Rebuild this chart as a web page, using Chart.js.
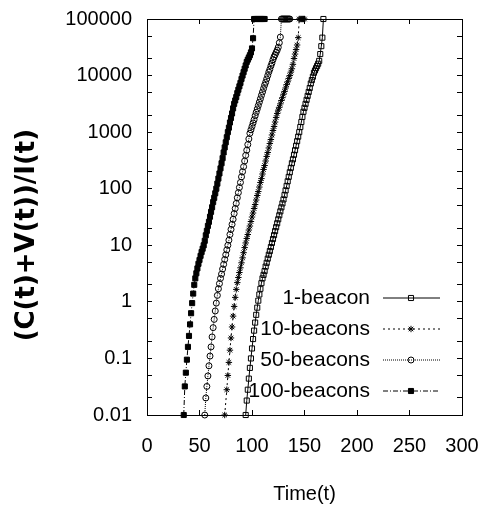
<!DOCTYPE html>
<html>
<head>
<meta charset="utf-8">
<script src="https://cdn.jsdelivr.net/npm/chart.js@4.4.1/dist/chart.umd.min.js"></script>
<style>
html,body{margin:0;padding:0;background:#fff;}
canvas{display:block;}
</style>
</head>
<body>
<canvas id="c" width="489" height="516"></canvas>
<script>
// ---------------- data ----------------
const seriesLabels = ['1-beacon', '10-beacons', '50-beacons', '100-beacons'];
const xTickValues = [0, 50, 100, 150, 200, 250, 300];
const yMajorTicks = [0.01, 0.1, 1, 10, 100, 1000, 10000, 100000];
const yMajorLabels = ['0.01', '0.1', '1', '10', '100', '1000', '10000', '100000'];
const yMinorTicks = [0.02, 0.05, 0.2, 0.5, 2, 5, 20, 50, 200, 500, 2000, 5000, 20000, 50000];
const xTitle = 'Time(t)';
const yTitle = '(C(t)+V(t))/I(t)';

const time1 = [94,95,96,97,98,99,100,101,102,103,104,105,106,107,108,109,110,111,112,113,114,115,116,117,118,119,120,121,122,123,124,125,126,127,128,129,130,131,132,133,134,135,136,137,138,139,140,141,142,143,144,145,146,147,148,149,150,151,152,153,154,155,156,157,158,159,160,161,162,163,164,165,166,167,168];
const value1 = [0.01,0.018,0.028,0.044,0.068,0.1,0.15,0.22,0.31,0.43,0.59,0.79,1.05,1.35,1.7,2.14,2.6,3.0,3.5,4.2,4.9,5.8,6.8,7.9,9.3,11,12.9,15.1,17.8,20.9,24.5,28.8,33.9,39.8,46.8,55,64.6,77.6,93.3,112,135,162,195,234,282,331,398,479,575,692,832,1000,1230,1510,1860,2290,2690,3160,3720,4370,5130,6030,7240,8320,9550,11200,12300,13500,14800,16200,18200,24000,33100,46800,100000];

const time10 = [74,76,77,78,79,80,81,82,83,84,85,86,87,88,89,90,91,92,93,94,95,96,97,98,99,100,101,102,103,104,105,106,107,108,109,110,111,112,113,114,115,116,117,118,119,120,121,122,123,124,125,126,127,128,129,130,131,132,133,134,135,136,137,138,139,140,141,142,143,144,145,146,147,148,149,150];
const value10 = [0.01,0.028,0.05,0.085,0.14,0.23,0.36,0.56,0.83,1.2,1.66,2.19,2.7,3.3,4.0,4.9,6.0,7.4,9.1,11,13.2,15.5,18.6,21.9,26.3,31.6,37.2,44.7,52.5,63.1,75.9,89.1,107,129,151,182,219,257,309,372,437,525,631,741,891,1070,1260,1510,1820,2140,2450,2750,3160,3630,4070,4680,5250,6030,6920,7760,8910,10000,11500,13200,15800,20000,24000,28800,34700,46800,100000,100000,100000,100000,100000,100000];

const time50 = [55,56,57,58,59,60,61,62,63,64,65,66,67,68,69,70,71,72,73,74,75,76,77,78,79,80,81,82,83,84,85,86,87,88,89,90,91,92,93,94,95,96,97,98,99,100,101,102,103,104,105,106,107,108,109,110,111,112,113,114,115,116,117,118,119,120,121,122,123,124,125,126,127,128,129,130,131,132,133,134,135,136];
const value50 = [0.01,0.02,0.032,0.049,0.074,0.11,0.16,0.24,0.35,0.49,0.69,0.95,1.3,1.7,2.1,2.6,3.1,3.8,4.6,5.6,6.8,8.3,10,12.3,15.5,19.1,23.4,28.8,36.3,44.7,55,69.2,85.1,105,129,162,200,245,309,389,479,603,759,955,1100,1260,1450,1660,1950,2240,2570,2950,3390,3890,4470,5130,5890,6760,7590,8710,10000,11500,12900,14800,16600,19100,21400,23400,25700,28200,31600,38000,47900,100000,100000,100000,100000,100000,100000,100000,100000,100000];

const time100 = [35,36,37,38,39,40,41,42,43,44,45,46,47,48,49,50,51,52,53,54,55,56,57,58,59,60,61,62,63,64,65,66,67,68,69,70,71,72,73,74,75,76,77,78,79,80,81,82,83,84,85,86,87,88,89,90,91,92,93,94,95,96,97,98,99,100,101,102,103,104,105,106,107,108,109,110,111,112];
const value100 = [0.01,0.032,0.056,0.095,0.16,0.25,0.4,0.63,0.95,1.4,2.0,2.6,3.2,3.9,4.7,5.5,6.5,7.6,8.7,10,12,15,18,22,26,32,39,47,58,69,83,100,123,151,186,229,282,347,437,537,661,813,1000,1200,1480,1780,2140,2630,3160,3630,4170,4900,5620,6460,7410,8710,10000,11500,13200,15100,17400,19100,20900,22900,25700,30200,45700,100000,100000,100000,100000,100000,100000,100000,100000,100000,100000,100000];

// ---------------- chart ----------------
const FONT = '"Liberation Sans", Arial, sans-serif';
const pts = (ts, vs) => ts.map((t, i) => ({ x: t, y: vs[i] }));

function mkSet(label, ts, vs, style, radius, bg, dash) {
  return {
    label: label,
    data: pts(ts, vs),
    borderColor: '#000',
    borderWidth: 1,
    borderDash: dash,
    pointStyle: style,
    pointRadius: radius,
    pointBorderWidth: 1,
    pointBorderColor: '#000',
    pointBackgroundColor: bg,
    fill: false,
    tension: 0,
    clip: false
  };
}

const datasets = [
  mkSet(seriesLabels[0], time1, value1, 'rect', 3.6, 'rgba(0,0,0,0)', []),
  mkSet(seriesLabels[1], time10, value10, 'star', 3.2, 'rgba(0,0,0,0)', [2, 3]),
  mkSet(seriesLabels[2], time50, value50, 'circle', 3, 'rgba(0,0,0,0)', [1, 1]),
  mkSet(seriesLabels[3], time100, value100, 'rect', 3.6, '#000', [5, 2, 1, 2])
];

const yTicksAll = yMajorTicks.concat(yMinorTicks).sort((a, b) => a - b);

function gridOpts() {
  return { drawOnChartArea: false, drawTicks: true, tickLength: -5, color: '#000', tickColor: '#000', lineWidth: 1, tickWidth: 1 };
}
function borderOpts() { return { display: true, color: '#000', width: 1 }; }
function noOverhang(s) { s.paddingLeft = 0; s.paddingRight = 0; s.paddingTop = 0; s.paddingBottom = 0; }

const gnuLegend = {
  id: 'gnuLegend',
  afterDatasetsDraw(chart) {
    const ctx = chart.ctx;
    const a = chart.chartArea;
    ctx.save();
    ctx.font = '21px ' + FONT;
    ctx.textAlign = 'right';
    ctx.textBaseline = 'middle';
    chart.data.datasets.forEach((ds, i) => {
      const y = a.bottom - 117 + i * 31;
      ctx.fillStyle = '#000';
      ctx.fillText(ds.label, a.right - 92, y);
      ctx.strokeStyle = '#000';
      ctx.lineWidth = 1;
      ctx.setLineDash(ds.borderDash || []);
      ctx.beginPath();
      ctx.moveTo(a.right - 79, y);
      ctx.lineTo(a.right - 22, y);
      ctx.stroke();
      ctx.setLineDash([]);
      ctx.fillStyle = ds.pointBackgroundColor;
      ctx.strokeStyle = '#000';
      Chart.helpers.drawPoint(ctx, { pointStyle: ds.pointStyle, radius: ds.pointRadius, rotation: 0, borderWidth: 1 }, a.right - 51, y);
    });
    ctx.restore();
  }
};

new Chart(document.getElementById('c'), {
  type: 'line',
  data: { datasets: datasets },
  options: {
    responsive: false,
    animation: false,
    devicePixelRatio: 1,
    layout: { padding: { left: 0, right: 27, top: 19, bottom: 0 } },
    plugins: { legend: { display: false }, tooltip: { enabled: false } },
    scales: {
      x: {
        type: 'linear', position: 'bottom', min: 0, max: 300,
        afterBuildTicks: s => { s.ticks = xTickValues.map(v => ({ value: v })); },
        ticks: { autoSkip: false, maxRotation: 0, padding: 24, color: '#000', font: { family: FONT, size: 20 } },
        grid: gridOpts(),
        border: borderOpts(),
        title: { display: true, text: xTitle, color: '#000', font: { family: FONT, size: 20 }, padding: { top: 0, bottom: 10 } },
        afterFit: s => { s.height = 101; noOverhang(s); }
      },
      x2: {
        type: 'linear', position: 'top', min: 0, max: 300,
        afterBuildTicks: s => { s.ticks = xTickValues.map(v => ({ value: v })); },
        ticks: { display: false },
        grid: gridOpts(),
        border: borderOpts(),
        afterFit: s => { s.height = 0; noOverhang(s); }
      },
      y: {
        type: 'logarithmic', position: 'left', min: 0.01, max: 100000,
        afterBuildTicks: s => { s.ticks = yTicksAll.map(v => ({ value: v })); },
        ticks: {
          autoSkip: false, padding: 20, color: '#000', font: { family: FONT, size: 20 },
          callback: v => { const i = yMajorTicks.indexOf(v); return i >= 0 ? yMajorLabels[i] : ''; }
        },
        grid: gridOpts(),
        border: borderOpts(),
        title: { display: true, text: yTitle + '    ', color: '#000', font: { family: 'DejaVu Sans', size: 26, weight: 'bold' }, padding: { top: 12, bottom: 0 } },
        afterFit: s => { s.width = 147; noOverhang(s); }
      },
      y2: {
        type: 'logarithmic', position: 'right', min: 0.01, max: 100000,
        afterBuildTicks: s => { s.ticks = yTicksAll.map(v => ({ value: v })); },
        ticks: { display: false },
        grid: gridOpts(),
        border: borderOpts(),
        afterFit: s => { s.width = 0; noOverhang(s); }
      }
    }
  },
  plugins: [gnuLegend]
});
</script>
</body>
</html>
